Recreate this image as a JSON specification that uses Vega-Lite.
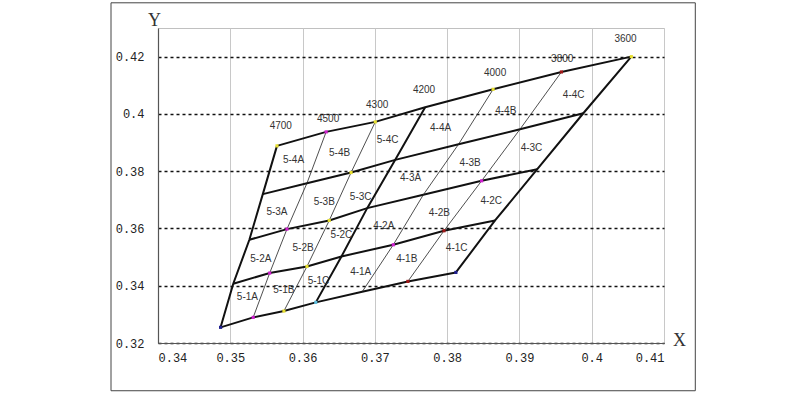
{
  "$schema": "https://vega.github.io/schema/vega-lite/v6.json",
  "width": 506,
  "height": 315,
  "autosize": {"type": "none"},
  "padding": {"left": 158, "top": 28, "right": 136, "bottom": 53},
  "background": "white",
  "config": {
    "view": {"stroke": "#c0c0c0", "strokeWidth": 1},
    "axis": {"labelFont": "Liberation Mono", "labelFontSize": 12, "labelColor": "#222", "domainColor": "#555", "domainWidth": 1.2, "ticks": false, "titleFont": "Liberation Serif", "titleFontSize": 18, "titleFontWeight": "normal", "titleColor": "#333"}
  },
  "datasets": {
    "v": [
      {"i": 0, "j": 0, "x": 0.34866, "y": 0.32547, "s": "c"},
      {"i": 0, "j": 1, "x": 0.35041, "y": 0.34070, "s": ""},
      {"i": 0, "j": 2, "x": 0.35264, "y": 0.35605, "s": ""},
      {"i": 0, "j": 3, "x": 0.35450, "y": 0.37198, "s": ""},
      {"i": 0, "j": 4, "x": 0.35646, "y": 0.38884, "s": "b"},
      {"i": 1, "j": 0, "x": 0.35317, "y": 0.32895, "s": "a"},
      {"i": 1, "j": 1, "x": 0.35545, "y": 0.34442, "s": "a"},
      {"i": 1, "j": 2, "x": 0.35784, "y": 0.35977, "s": "a"},
      {"i": 1, "j": 3, "x": 0.36061, "y": 0.37581, "s": ""},
      {"i": 1, "j": 4, "x": 0.36326, "y": 0.39372, "s": "a"},
      {"i": 2, "j": 0, "x": 0.35742, "y": 0.33116, "s": "b"},
      {"i": 2, "j": 1, "x": 0.36061, "y": 0.34674, "s": "b"},
      {"i": 2, "j": 2, "x": 0.36369, "y": 0.36279, "s": "b"},
      {"i": 2, "j": 3, "x": 0.36671, "y": 0.37953, "s": "b"},
      {"i": 2, "j": 4, "x": 0.37006, "y": 0.39721, "s": "b"},
      {"i": 3, "j": 0, "x": 0.36183, "y": 0.33419, "s": "e"},
      {"i": 3, "j": 1, "x": 0.36538, "y": 0.35023, "s": ""},
      {"i": 3, "j": 2, "x": 0.36894, "y": 0.36709, "s": ""},
      {"i": 3, "j": 3, "x": 0.37282, "y": 0.38395, "s": ""},
      {"i": 3, "j": 4, "x": 0.37696, "y": 0.40233, "s": ""},
      {"i": 4, "j": 0, "x": 0.36825, "y": 0.33791, "s": ""},
      {"i": 4, "j": 1, "x": 0.37255, "y": 0.35430, "s": "a"},
      {"i": 4, "j": 2, "x": 0.37670, "y": 0.37174, "s": ""},
      {"i": 4, "j": 3, "x": 0.38158, "y": 0.38942, "s": ""},
      {"i": 4, "j": 4, "x": 0.38636, "y": 0.40860, "s": "b"},
      {"i": 5, "j": 0, "x": 0.37457, "y": 0.34151, "s": "d"},
      {"i": 5, "j": 1, "x": 0.37956, "y": 0.35919, "s": "d"},
      {"i": 5, "j": 2, "x": 0.38477, "y": 0.37663, "s": "a"},
      {"i": 5, "j": 3, "x": 0.39008, "y": 0.39465, "s": ""},
      {"i": 5, "j": 4, "x": 0.39581, "y": 0.41465, "s": "d"},
      {"i": 6, "j": 0, "x": 0.38121, "y": 0.34465, "s": "c"},
      {"i": 6, "j": 1, "x": 0.38663, "y": 0.36279, "s": ""},
      {"i": 6, "j": 2, "x": 0.39247, "y": 0.38070, "s": ""},
      {"i": 6, "j": 3, "x": 0.39884, "y": 0.40023, "s": ""},
      {"i": 6, "j": 4, "x": 0.40548, "y": 0.42000, "s": "b"}
    ],
    "lab": [
      {"t": "5-4A", "x": 0.35875, "y": 0.38395},
      {"t": "5-4B", "x": 0.36512, "y": 0.38651},
      {"t": "5-4C", "x": 0.37176, "y": 0.39093},
      {"t": "5-3A", "x": 0.35646, "y": 0.36558},
      {"t": "5-3B", "x": 0.36300, "y": 0.36907},
      {"t": "5-3C", "x": 0.36804, "y": 0.37093},
      {"t": "5-2A", "x": 0.35423, "y": 0.34930},
      {"t": "5-2B", "x": 0.36007, "y": 0.35314},
      {"t": "5-2C", "x": 0.36538, "y": 0.35779},
      {"t": "5-1A", "x": 0.35237, "y": 0.33593},
      {"t": "5-1B", "x": 0.35742, "y": 0.33837},
      {"t": "5-1C", "x": 0.36220, "y": 0.34174},
      {"t": "4-4A", "x": 0.37909, "y": 0.39500},
      {"t": "4-4B", "x": 0.38811, "y": 0.40116},
      {"t": "4-4C", "x": 0.39751, "y": 0.40663},
      {"t": "4-3A", "x": 0.37494, "y": 0.37756},
      {"t": "4-3B", "x": 0.38318, "y": 0.38279},
      {"t": "4-3C", "x": 0.39167, "y": 0.38826},
      {"t": "4-2A", "x": 0.37123, "y": 0.36070},
      {"t": "4-2B", "x": 0.37893, "y": 0.36535},
      {"t": "4-2C", "x": 0.38610, "y": 0.36942},
      {"t": "4-1A", "x": 0.36804, "y": 0.34465},
      {"t": "4-1B", "x": 0.37441, "y": 0.34930},
      {"t": "4-1C", "x": 0.38132, "y": 0.35314},
      {"t": "4700", "x": 0.35699, "y": 0.39581},
      {"t": "4500", "x": 0.36353, "y": 0.39814},
      {"t": "4300", "x": 0.37032, "y": 0.40314},
      {"t": "4200", "x": 0.37680, "y": 0.40837},
      {"t": "4000", "x": 0.38663, "y": 0.41419},
      {"t": "3800", "x": 0.39592, "y": 0.41930},
      {"t": "3600", "x": 0.40468, "y": 0.42605}
    ]
  },
  "layer": [
    {
      "data": {"name": "v"},
      "mark": {"type": "line", "color": "#111", "strokeWidth": 2},
      "encoding": {
        "x": {"field": "x", "type": "quantitative", "scale": {"domain": [0.34, 0.41], "nice": false, "zero": false},
          "axis": {"values": [0.34, 0.35, 0.36, 0.37, 0.38, 0.39, 0.4, 0.41], "format": "~g", "grid": true, "gridColor": "#c8c8c8", "gridWidth": 1, "labelPadding": 9, "title": "X", "titleAngle": 0, "titleX": 521, "titleY": -3, "titleAlign": "center", "titleBaseline": "middle"}},
        "y": {"field": "y", "type": "quantitative", "scale": {"domain": [0.32, 0.43], "nice": false, "zero": false},
          "axis": {"values": [0.32, 0.34, 0.36, 0.38, 0.4, 0.42], "format": "~g", "grid": true, "gridColor": "#111", "gridDash": [3, 3], "gridWidth": 1.3, "labelPadding": 14, "title": "Y", "titleAngle": 0, "titleX": -4, "titleY": -8, "titleAlign": "center", "titleBaseline": "middle"}},
        "detail": {"field": "j", "type": "nominal"},
        "order": {"field": "i", "type": "quantitative"}
      }
    },
    {
      "data": {"name": "v"},
      "transform": [{"filter": "datum.i % 3 == 0"}],
      "mark": {"type": "line", "color": "#111", "strokeWidth": 2},
      "encoding": {
        "x": {"field": "x", "type": "quantitative"},
        "y": {"field": "y", "type": "quantitative"},
        "detail": {"field": "i", "type": "nominal"},
        "order": {"field": "j", "type": "quantitative"}
      }
    },
    {
      "data": {"name": "v"},
      "transform": [{"filter": "datum.i % 3 != 0"}],
      "mark": {"type": "line", "color": "#222", "strokeWidth": 0.8},
      "encoding": {
        "x": {"field": "x", "type": "quantitative"},
        "y": {"field": "y", "type": "quantitative"},
        "detail": {"field": "i", "type": "nominal"},
        "order": {"field": "j", "type": "quantitative"}
      }
    },
    {
      "data": {"name": "v"},
      "transform": [{"filter": "datum.s != ''"}],
      "mark": {"type": "square", "size": 10, "opacity": 1},
      "encoding": {
        "x": {"field": "x", "type": "quantitative"},
        "y": {"field": "y", "type": "quantitative"},
        "color": {"field": "s", "type": "nominal", "legend": null,
          "scale": {"domain": ["a", "b", "c", "d", "e"], "range": ["#d020d0", "#e8e030", "#202090", "#a01818", "#60c0e0"]}}
      }
    },
    {
      "data": {"name": "lab"},
      "mark": {"type": "text", "font": "Liberation Sans", "fontSize": 10, "color": "#333"},
      "encoding": {
        "x": {"field": "x", "type": "quantitative"},
        "y": {"field": "y", "type": "quantitative"},
        "text": {"field": "t", "type": "nominal"}
      }
    },
    {
      "data": {"values": [{"f": 1}]},
      "mark": {"type": "rect", "fill": "transparent", "stroke": "#444", "strokeWidth": 1, "clip": false},
      "encoding": {
        "x": {"datum": 0.33350, "type": "quantitative"},
        "x2": {"datum": 0.41433},
        "y": {"datum": 0.30333, "type": "quantitative"},
        "y2": {"datum": 0.43880}
      }
    }
  ]
}
